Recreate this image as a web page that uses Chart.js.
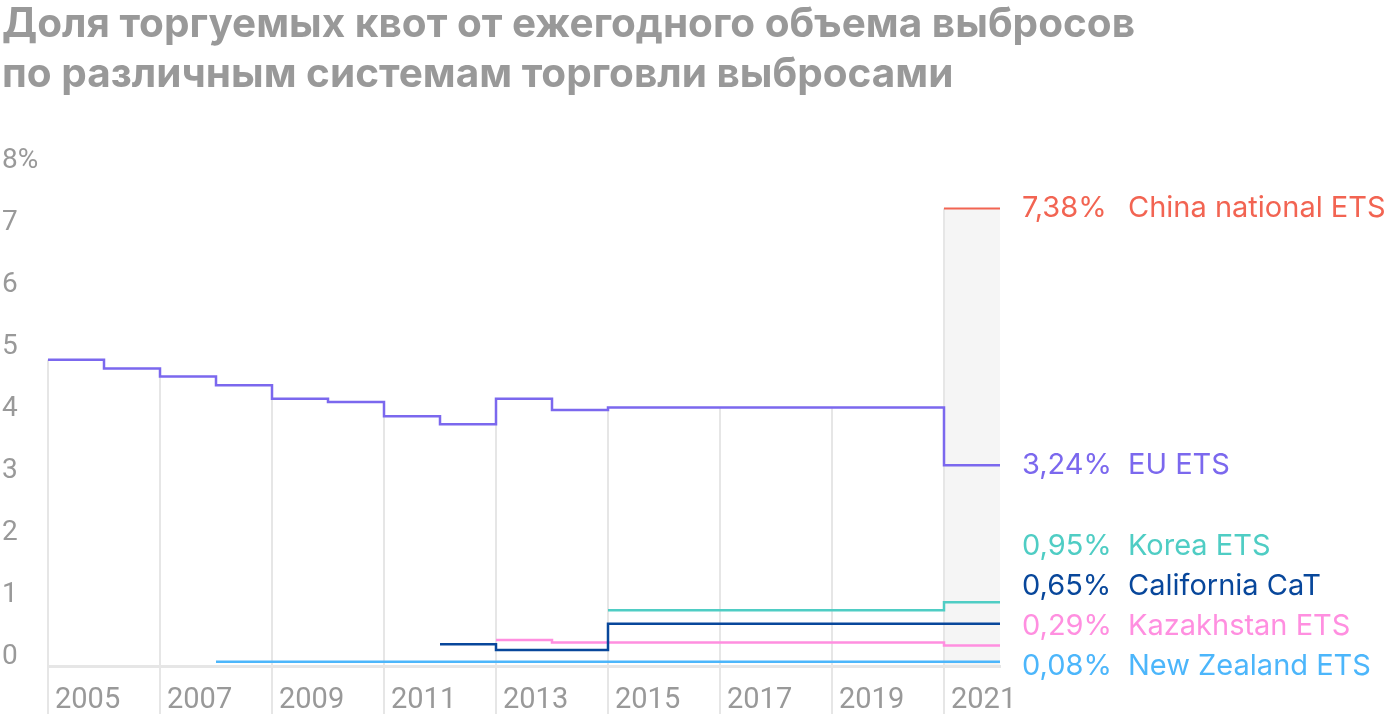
<!DOCTYPE html>
<html><head><meta charset="utf-8">
<script src="https://cdn.jsdelivr.net/npm/chart.js@4/dist/chart.umd.min.js"></script>
<style>html,body{margin:0;padding:0;background:#fff;}#wrap{width:1400px;height:720px;}</style>
</head><body><div id="wrap"><canvas id="c" width="1400" height="720"></canvas></div>
<script>
const titleLines = ['Доля торгуемых квот от ежегодного объема выбросов', 'по различным системам торговли выбросами'];
const years = [2005,2006,2007,2008,2009,2010,2011,2012,2013,2014,2015,2016,2017,2018,2019,2020,2021];
const tickYears = [2005,2007,2009,2011,2013,2015,2017,2019,2021];
const yTicks = [0,1,2,3,4,5,6,7,8];
const seriesNames = ['China national ETS','EU ETS','Korea ETS','California CaT','Kazakhstan ETS','New Zealand ETS'];
const endValues = ['7,38%','3,24%','0,95%','0,65%','0,29%','0,08%'];
const seriesColors = ['#f26452','#7b68ee','#4fcdc4','#08479b','#ff8fe0','#4cb6fb'];
const chinaETS      = [null,null,null,null,null,null,null,null,null,null,null,null,null,null,null,null,7.38];
const euETS         = [4.94,4.80,4.67,4.53,4.31,4.26,4.03,3.90,4.31,4.13,4.17,4.17,4.17,4.17,4.17,4.17,3.24];
const koreaETS      = [null,null,null,null,null,null,null,null,null,null,0.90,0.90,0.90,0.90,0.90,0.90,1.03];
const californiaCaT = [null,null,null,null,null,null,null,0.35,0.26,0.26,0.68,0.68,0.68,0.68,0.68,0.68,0.68];
const kazakhstanETS = [null,null,null,null,null,null,null,null,0.42,0.38,0.38,0.38,0.38,0.38,0.38,0.38,0.33];
const newZealandETS = [null,null,null,0.07,0.07,0.07,0.07,0.07,0.07,0.07,0.07,0.07,0.07,0.07,0.07,0.07,0.07];
const allSeries = [chinaETS, euETS, koreaETS, californiaCaT, kazakhstanETS, newZealandETS];

function toSteps(vals) {
  const pts = years.map((yr, i) => vals[i] == null ? null : { x: yr, y: vals[i] }).filter(Boolean);
  const last = pts[pts.length - 1];
  pts.push({ x: last.x + 1, y: last.y });
  return pts;
}

const datasets = allSeries.map((vals, i) => ({
  label: seriesNames[i],
  data: toSteps(vals),
  borderColor: seriesColors[i],
  backgroundColor: i === 0 ? '#f5f5f5' : 'transparent',
  fill: i === 0 ? 'origin' : false,
  borderWidth: i === 0 ? 2 : 2.5,
  stepped: 'before',
  pointRadius: 0,
  tension: 0
}));

const dropGrid = {
  id: 'dropGrid',
  beforeDatasetsDraw(chart) {
    const { ctx, chartArea, scales: { x, y } } = chart;
    ctx.save();
    ctx.strokeStyle = '#e6e6e6';
    ctx.lineWidth = 2;
    tickYears.forEach(yr => {
      const i = years.indexOf(yr);
      let top = 0;
      allSeries.forEach(s => { if (s[i] != null) top = Math.max(top, s[i]); });
      const px = x.getPixelForValue(yr);
      ctx.beginPath();
      ctx.moveTo(px, y.getPixelForValue(top));
      ctx.lineTo(px, chartArea.bottom);
      ctx.stroke();
    });
    ctx.restore();
  }
};

const endLabels = {
  id: 'endLabels',
  afterDraw(chart) {
    const { ctx, chartArea, scales: { y } } = chart;
    const items = chart.data.datasets.map((ds, i) => ({
      i, lineY: y.getPixelForValue(ds.data[ds.data.length - 1].y), color: ds.borderColor
    }));
    items.sort((a, b) => b.lineY - a.lineY);
    let cursor = y.getPixelForValue(0);
    items.forEach(it => {
      let p = Math.min(it.lineY, cursor);
      if (cursor - it.lineY < 16) p = cursor;
      it.pos = p;
      cursor = p - 40;
    });
    ctx.save();
    ctx.font = '29px Inter';
    ctx.textBaseline = 'middle';
    ctx.textAlign = 'left';
    items.forEach(it => {
      ctx.fillStyle = it.color;
      ctx.fillText(endValues[it.i], chartArea.right + 22, it.pos);
      ctx.fillText(seriesNames[it.i], chartArea.right + 128, it.pos);
    });
    ctx.restore();
  }
};

function draw() {
  new Chart(document.getElementById('c'), {
    type: 'line',
    data: { datasets },
    options: {
      responsive: false,
      animation: false,
      layout: { padding: { left: 2, right: 0, top: 0, bottom: 0 } },
      plugins: {
        legend: { display: false },
        tooltip: { enabled: false },
        filler: { drawTime: 'beforeDraw' },
        title: {
          display: true, text: titleLines, align: 'start', color: '#999999',
          font: { family: 'Inter', size: 40.5, weight: 'bold', lineHeight: 1.235 },
          padding: { top: 0, bottom: 70 }
        }
      },
      scales: {
        x: {
          type: 'linear', min: 2005, max: 2022,
          afterBuildTicks: s => { s.ticks = tickYears.map(v => ({ value: v })); },
          grid: { display: true, drawOnChartArea: false, drawTicks: true, tickLength: 48, color: '#e6e6e6', lineWidth: 2 },
          border: { display: true, color: '#e6e6e6', width: 3 },
          ticks: {
            align: 'start', labelOffset: 7, padding: -31, color: '#999999',
            font: { family: 'Roboto', size: 29 }, maxRotation: 0, autoSkip: false,
            callback: v => String(v)
          },
          afterFit: s => { s.height = 54; }
        },
        y: {
          min: 0, max: 8,
          afterBuildTicks: s => { s.ticks = yTicks.map(v => ({ value: v })); },
          grid: { display: false },
          border: { display: false },
          ticks: {
            crossAlign: 'far', labelOffset: -9, padding: 0, color: '#999999',
            font: { family: 'Roboto', size: 28 },
            callback: v => v === 8 ? '8%' : String(v)
          },
          afterFit: s => { s.width = 46; }
        },
        labelSpace: {
          position: 'right', min: 0, max: 8,
          grid: { display: false },
          border: { display: false },
          ticks: { display: false },
          afterFit: s => { s.width = 400; }
        }
      }
    },
    plugins: [dropGrid, endLabels]
  });
}

Promise.all([
  document.fonts.load('29px Inter'),
  document.fonts.load('bold 40.5px Inter'),
  document.fonts.load('28px Roboto')
]).then(draw, draw);
</script>
</body></html>
